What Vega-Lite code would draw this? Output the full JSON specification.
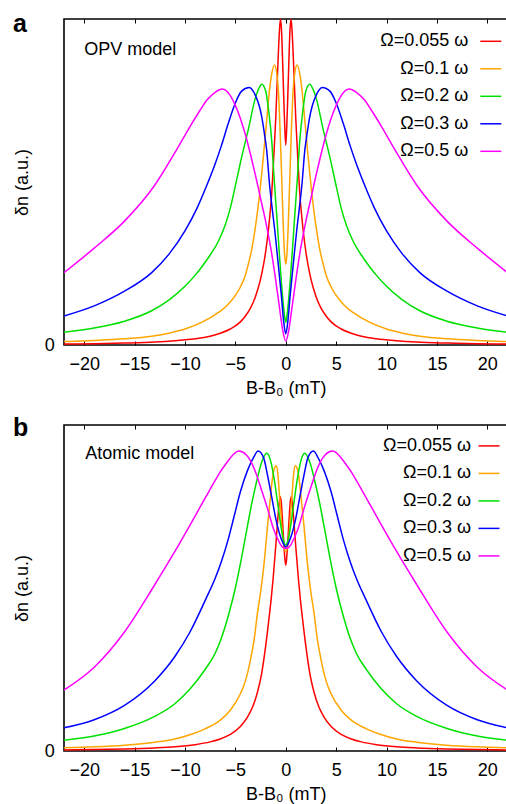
{
"$schema":"https://vega.github.io/schema/vega-lite/v6.json",
"padding":{"left":12,"top":10,"right":0,"bottom":0},
"spacing":15,
"config":{
 "font":"Liberation Sans",
 "view":{"stroke":"black","strokeWidth":1.6},
 "axis":{"labelFont":"Liberation Sans","labelFontSize":18,"labelColor":"black","titleFont":"Liberation Sans","titleFontSize":18,"titleFontWeight":"normal","titleColor":"black","grid":false,"domain":false,"tickColor":"black","tickWidth":1},
 "title":{"fontSize":25,"fontWeight":"bold","anchor":"start","frame":"group","color":"black","font":"Liberation Sans","baseline":"alphabetic","offset":0},
 "legend":{"orient":"none","title":null,"symbolType":"stroke","symbolSize":441,"symbolStrokeWidth":1.5,"labelAlign":"right","symbolOffset":0,"labelFontSize":18,"labelFont":"Liberation Sans","labelColor":"black","rowPadding":6.5,"padding":0,"labelLimit":300}
},
"resolve":{"scale":{"color":"independent"},"legend":{"color":"independent"}},
"datasets":{
"a":[
{"s":"0.055","x":-22,"y":0.003},{"s":"0.055","x":-19,"y":0.004},{"s":"0.055","x":-16,"y":0.006},{"s":"0.055","x":-13,"y":0.009},{"s":"0.055","x":-11,"y":0.013},{"s":"0.055","x":-9,"y":0.019},{"s":"0.055","x":-7.5,"y":0.027},{"s":"0.055","x":-6.5,"y":0.036},{"s":"0.055","x":-5.5,"y":0.049},{"s":"0.055","x":-4.5,"y":0.071},{"s":"0.055","x":-4,"y":0.089},{"s":"0.055","x":-3.5,"y":0.113},{"s":"0.055","x":-3,"y":0.149},{"s":"0.055","x":-2.5,"y":0.202},{"s":"0.055","x":-2.2,"y":0.247},{"s":"0.055","x":-2,"y":0.285},{"s":"0.055","x":-1.8,"y":0.332},{"s":"0.055","x":-1.6,"y":0.39},{"s":"0.055","x":-1.39,"y":0.465},{"s":"0.055","x":-1.2,"y":0.57},{"s":"0.055","x":-1,"y":0.69},{"s":"0.055","x":-0.8,"y":0.845},{"s":"0.055","x":-0.65,"y":0.95},{"s":"0.055","x":-0.53,"y":1},{"s":"0.055","x":-0.42,"y":0.965},{"s":"0.055","x":-0.3,"y":0.86},{"s":"0.055","x":-0.2,"y":0.76},{"s":"0.055","x":-0.1,"y":0.67},{"s":"0.055","x":0,"y":0.613},
{"s":"0.055","x":22,"y":0.003},{"s":"0.055","x":19,"y":0.004},{"s":"0.055","x":16,"y":0.006},{"s":"0.055","x":13,"y":0.009},{"s":"0.055","x":11,"y":0.013},{"s":"0.055","x":9,"y":0.019},{"s":"0.055","x":7.5,"y":0.027},{"s":"0.055","x":6.5,"y":0.036},{"s":"0.055","x":5.5,"y":0.049},{"s":"0.055","x":4.5,"y":0.071},{"s":"0.055","x":4,"y":0.089},{"s":"0.055","x":3.5,"y":0.113},{"s":"0.055","x":3,"y":0.149},{"s":"0.055","x":2.5,"y":0.202},{"s":"0.055","x":2.2,"y":0.247},{"s":"0.055","x":2,"y":0.285},{"s":"0.055","x":1.8,"y":0.332},{"s":"0.055","x":1.6,"y":0.39},{"s":"0.055","x":1.39,"y":0.465},{"s":"0.055","x":1.2,"y":0.57},{"s":"0.055","x":1,"y":0.69},{"s":"0.055","x":0.8,"y":0.845},{"s":"0.055","x":0.65,"y":0.95},{"s":"0.055","x":0.53,"y":1},{"s":"0.055","x":0.42,"y":0.965},{"s":"0.055","x":0.3,"y":0.86},{"s":"0.055","x":0.2,"y":0.76},{"s":"0.055","x":0.1,"y":0.67},
{"s":"0.1","x":-22,"y":0.0105},{"s":"0.1","x":-19,"y":0.014},{"s":"0.1","x":-16,"y":0.019},{"s":"0.1","x":-13.3,"y":0.027},{"s":"0.1","x":-11.5,"y":0.037},{"s":"0.1","x":-10,"y":0.049},{"s":"0.1","x":-8.3,"y":0.07},{"s":"0.1","x":-6.67,"y":0.1},{"s":"0.1","x":-5.8,"y":0.122},{"s":"0.1","x":-5,"y":0.152},{"s":"0.1","x":-4.5,"y":0.178},{"s":"0.1","x":-4,"y":0.215},{"s":"0.1","x":-3.7,"y":0.25},{"s":"0.1","x":-3.37,"y":0.294},{"s":"0.1","x":-3.04,"y":0.356},{"s":"0.1","x":-2.8,"y":0.41},{"s":"0.1","x":-2.54,"y":0.478},{"s":"0.1","x":-2.2,"y":0.585},{"s":"0.1","x":-1.88,"y":0.693},{"s":"0.1","x":-1.6,"y":0.785},{"s":"0.1","x":-1.4,"y":0.83},{"s":"0.1","x":-1.12,"y":0.859},{"s":"0.1","x":-0.9,"y":0.835},{"s":"0.1","x":-0.73,"y":0.78},{"s":"0.1","x":-0.55,"y":0.65},{"s":"0.1","x":-0.4,"y":0.51},{"s":"0.1","x":-0.25,"y":0.37},{"s":"0.1","x":-0.12,"y":0.28},{"s":"0.1","x":0,"y":0.248},
{"s":"0.1","x":22,"y":0.0105},{"s":"0.1","x":19,"y":0.014},{"s":"0.1","x":16,"y":0.019},{"s":"0.1","x":13.3,"y":0.027},{"s":"0.1","x":11.5,"y":0.037},{"s":"0.1","x":10,"y":0.049},{"s":"0.1","x":8.3,"y":0.07},{"s":"0.1","x":6.67,"y":0.1},{"s":"0.1","x":5.8,"y":0.122},{"s":"0.1","x":5,"y":0.152},{"s":"0.1","x":4.5,"y":0.178},{"s":"0.1","x":4,"y":0.215},{"s":"0.1","x":3.7,"y":0.25},{"s":"0.1","x":3.37,"y":0.294},{"s":"0.1","x":3.04,"y":0.356},{"s":"0.1","x":2.8,"y":0.41},{"s":"0.1","x":2.54,"y":0.478},{"s":"0.1","x":2.2,"y":0.585},{"s":"0.1","x":1.88,"y":0.693},{"s":"0.1","x":1.6,"y":0.785},{"s":"0.1","x":1.4,"y":0.83},{"s":"0.1","x":1.12,"y":0.859},{"s":"0.1","x":0.9,"y":0.835},{"s":"0.1","x":0.73,"y":0.78},{"s":"0.1","x":0.55,"y":0.65},{"s":"0.1","x":0.4,"y":0.51},{"s":"0.1","x":0.25,"y":0.37},{"s":"0.1","x":0.12,"y":0.28},
{"s":"0.2","x":-22,"y":0.039},{"s":"0.2","x":-19,"y":0.052},{"s":"0.2","x":-16,"y":0.073},{"s":"0.2","x":-13.3,"y":0.105},{"s":"0.2","x":-11.5,"y":0.14},{"s":"0.2","x":-10,"y":0.18},{"s":"0.2","x":-9,"y":0.2136},{"s":"0.2","x":-8.3,"y":0.241},{"s":"0.2","x":-7.5,"y":0.276},{"s":"0.2","x":-6.67,"y":0.319},{"s":"0.2","x":-6,"y":0.369},{"s":"0.2","x":-5.5,"y":0.42},{"s":"0.2","x":-5,"y":0.488},{"s":"0.2","x":-4.4,"y":0.573},{"s":"0.2","x":-3.7,"y":0.663},{"s":"0.2","x":-3.04,"y":0.755},{"s":"0.2","x":-2.7,"y":0.785},{"s":"0.2","x":-2.38,"y":0.8},{"s":"0.2","x":-2,"y":0.78},{"s":"0.2","x":-1.7,"y":0.72},{"s":"0.2","x":-1.4,"y":0.63},{"s":"0.2","x":-1.15,"y":0.51},{"s":"0.2","x":-0.9,"y":0.4},{"s":"0.2","x":-0.69,"y":0.305},{"s":"0.2","x":-0.45,"y":0.2},{"s":"0.2","x":-0.23,"y":0.12},{"s":"0.2","x":-0.1,"y":0.085},{"s":"0.2","x":0,"y":0.07},
{"s":"0.2","x":22,"y":0.039},{"s":"0.2","x":19,"y":0.052},{"s":"0.2","x":16,"y":0.073},{"s":"0.2","x":13.3,"y":0.105},{"s":"0.2","x":11.5,"y":0.14},{"s":"0.2","x":10,"y":0.18},{"s":"0.2","x":9,"y":0.2136},{"s":"0.2","x":8.3,"y":0.241},{"s":"0.2","x":7.5,"y":0.276},{"s":"0.2","x":6.67,"y":0.319},{"s":"0.2","x":6,"y":0.369},{"s":"0.2","x":5.5,"y":0.42},{"s":"0.2","x":5,"y":0.488},{"s":"0.2","x":4.4,"y":0.573},{"s":"0.2","x":3.7,"y":0.663},{"s":"0.2","x":3.04,"y":0.755},{"s":"0.2","x":2.7,"y":0.785},{"s":"0.2","x":2.38,"y":0.8},{"s":"0.2","x":2,"y":0.78},{"s":"0.2","x":1.7,"y":0.72},{"s":"0.2","x":1.4,"y":0.63},{"s":"0.2","x":1.15,"y":0.51},{"s":"0.2","x":0.9,"y":0.4},{"s":"0.2","x":0.69,"y":0.305},{"s":"0.2","x":0.45,"y":0.2},{"s":"0.2","x":0.23,"y":0.12},{"s":"0.2","x":0.1,"y":0.085},
{"s":"0.3","x":-22,"y":0.089},{"s":"0.3","x":-19,"y":0.12},{"s":"0.3","x":-16,"y":0.165},{"s":"0.3","x":-13.3,"y":0.222},{"s":"0.3","x":-11.6,"y":0.278},{"s":"0.3","x":-10,"y":0.35},{"s":"0.3","x":-8.8,"y":0.42},{"s":"0.3","x":-7.79,"y":0.493},{"s":"0.3","x":-7,"y":0.556},{"s":"0.3","x":-6.4,"y":0.61},{"s":"0.3","x":-5.7,"y":0.68},{"s":"0.3","x":-5.02,"y":0.741},{"s":"0.3","x":-4.4,"y":0.778},{"s":"0.3","x":-3.63,"y":0.79},{"s":"0.3","x":-3,"y":0.765},{"s":"0.3","x":-2.6,"y":0.73},{"s":"0.3","x":-2.38,"y":0.7},{"s":"0.3","x":-2.1,"y":0.645},{"s":"0.3","x":-1.9,"y":0.6},{"s":"0.3","x":-1.6,"y":0.49},{"s":"0.3","x":-1.35,"y":0.42},{"s":"0.3","x":-1.1,"y":0.355},{"s":"0.3","x":-0.8,"y":0.265},{"s":"0.3","x":-0.43,"y":0.15},{"s":"0.3","x":-0.2,"y":0.07},{"s":"0.3","x":0,"y":0.034},
{"s":"0.3","x":22,"y":0.089},{"s":"0.3","x":19,"y":0.12},{"s":"0.3","x":16,"y":0.165},{"s":"0.3","x":13.3,"y":0.222},{"s":"0.3","x":11.6,"y":0.278},{"s":"0.3","x":10,"y":0.35},{"s":"0.3","x":8.8,"y":0.42},{"s":"0.3","x":7.79,"y":0.493},{"s":"0.3","x":7,"y":0.556},{"s":"0.3","x":6.4,"y":0.61},{"s":"0.3","x":5.7,"y":0.68},{"s":"0.3","x":5.02,"y":0.741},{"s":"0.3","x":4.4,"y":0.778},{"s":"0.3","x":3.63,"y":0.79},{"s":"0.3","x":3,"y":0.765},{"s":"0.3","x":2.6,"y":0.73},{"s":"0.3","x":2.38,"y":0.7},{"s":"0.3","x":2.1,"y":0.645},{"s":"0.3","x":1.9,"y":0.6},{"s":"0.3","x":1.6,"y":0.49},{"s":"0.3","x":1.35,"y":0.42},{"s":"0.3","x":1.1,"y":0.355},{"s":"0.3","x":0.8,"y":0.265},{"s":"0.3","x":0.43,"y":0.15},{"s":"0.3","x":0.2,"y":0.07},
{"s":"0.5","x":-22,"y":0.222},{"s":"0.5","x":-19,"y":0.297},{"s":"0.5","x":-16,"y":0.38},{"s":"0.5","x":-13,"y":0.49},{"s":"0.5","x":-11,"y":0.59},{"s":"0.5","x":-9.5,"y":0.67},{"s":"0.5","x":-8.5,"y":0.72},{"s":"0.5","x":-7.8,"y":0.752},{"s":"0.5","x":-7,"y":0.775},{"s":"0.5","x":-6.3,"y":0.785},{"s":"0.5","x":-5.5,"y":0.765},{"s":"0.5","x":-5,"y":0.735},{"s":"0.5","x":-4.5,"y":0.695},{"s":"0.5","x":-4,"y":0.645},{"s":"0.5","x":-3.5,"y":0.585},{"s":"0.5","x":-3,"y":0.52},{"s":"0.5","x":-2.5,"y":0.45},{"s":"0.5","x":-2,"y":0.38},{"s":"0.5","x":-1.5,"y":0.3},{"s":"0.5","x":-1,"y":0.2},{"s":"0.5","x":-0.6,"y":0.11},{"s":"0.5","x":-0.3,"y":0.045},{"s":"0.5","x":0,"y":0.012},
{"s":"0.5","x":22,"y":0.222},{"s":"0.5","x":19,"y":0.297},{"s":"0.5","x":16,"y":0.38},{"s":"0.5","x":13,"y":0.49},{"s":"0.5","x":11,"y":0.59},{"s":"0.5","x":9.5,"y":0.67},{"s":"0.5","x":8.5,"y":0.72},{"s":"0.5","x":7.8,"y":0.752},{"s":"0.5","x":7,"y":0.775},{"s":"0.5","x":6.3,"y":0.785},{"s":"0.5","x":5.5,"y":0.765},{"s":"0.5","x":5,"y":0.735},{"s":"0.5","x":4.5,"y":0.695},{"s":"0.5","x":4,"y":0.645},{"s":"0.5","x":3.5,"y":0.585},{"s":"0.5","x":3,"y":0.52},{"s":"0.5","x":2.5,"y":0.45},{"s":"0.5","x":2,"y":0.38},{"s":"0.5","x":1.5,"y":0.3},{"s":"0.5","x":1,"y":0.2},{"s":"0.5","x":0.6,"y":0.11},{"s":"0.5","x":0.3,"y":0.045}
],
"b":[
{"s":"0.055","x":-22,"y":0.0033},{"s":"0.055","x":-19,"y":0.0044},{"s":"0.055","x":-16,"y":0.0062},{"s":"0.055","x":-13,"y":0.0094},{"s":"0.055","x":-11,"y":0.013},{"s":"0.055","x":-9,"y":0.0195},{"s":"0.055","x":-7.5,"y":0.028},{"s":"0.055","x":-6.5,"y":0.037},{"s":"0.055","x":-5.5,"y":0.051},{"s":"0.055","x":-4.5,"y":0.075},{"s":"0.055","x":-3.8,"y":0.104},{"s":"0.055","x":-3.3,"y":0.134},{"s":"0.055","x":-2.8,"y":0.181},{"s":"0.055","x":-2.4,"y":0.236},{"s":"0.055","x":-2,"y":0.32},{"s":"0.055","x":-1.65,"y":0.41},{"s":"0.055","x":-1.45,"y":0.465},{"s":"0.055","x":-1.25,"y":0.53},{"s":"0.055","x":-1,"y":0.625},{"s":"0.055","x":-0.82,"y":0.7},{"s":"0.055","x":-0.68,"y":0.75},{"s":"0.055","x":-0.56,"y":0.78},{"s":"0.055","x":-0.45,"y":0.765},{"s":"0.055","x":-0.33,"y":0.71},{"s":"0.055","x":-0.2,"y":0.64},{"s":"0.055","x":-0.1,"y":0.595},{"s":"0.055","x":0,"y":0.57},
{"s":"0.055","x":22,"y":0.0033},{"s":"0.055","x":19,"y":0.0044},{"s":"0.055","x":16,"y":0.0062},{"s":"0.055","x":13,"y":0.0094},{"s":"0.055","x":11,"y":0.013},{"s":"0.055","x":9,"y":0.0195},{"s":"0.055","x":7.5,"y":0.028},{"s":"0.055","x":6.5,"y":0.037},{"s":"0.055","x":5.5,"y":0.051},{"s":"0.055","x":4.5,"y":0.075},{"s":"0.055","x":3.8,"y":0.104},{"s":"0.055","x":3.3,"y":0.134},{"s":"0.055","x":2.8,"y":0.181},{"s":"0.055","x":2.4,"y":0.236},{"s":"0.055","x":2,"y":0.32},{"s":"0.055","x":1.65,"y":0.41},{"s":"0.055","x":1.45,"y":0.465},{"s":"0.055","x":1.25,"y":0.53},{"s":"0.055","x":1,"y":0.625},{"s":"0.055","x":0.82,"y":0.7},{"s":"0.055","x":0.68,"y":0.75},{"s":"0.055","x":0.56,"y":0.78},{"s":"0.055","x":0.45,"y":0.765},{"s":"0.055","x":0.33,"y":0.71},{"s":"0.055","x":0.2,"y":0.64},{"s":"0.055","x":0.1,"y":0.595},
{"s":"0.1","x":-22,"y":0.01},{"s":"0.1","x":-19,"y":0.013},{"s":"0.1","x":-16,"y":0.018},{"s":"0.1","x":-13,"y":0.027},{"s":"0.1","x":-11,"y":0.037},{"s":"0.1","x":-9.5,"y":0.05},{"s":"0.1","x":-8,"y":0.068},{"s":"0.1","x":-7,"y":0.084},{"s":"0.1","x":-6.4,"y":0.097},{"s":"0.1","x":-5.5,"y":0.125},{"s":"0.1","x":-4.46,"y":0.178},{"s":"0.1","x":-4,"y":0.215},{"s":"0.1","x":-3.47,"y":0.285},{"s":"0.1","x":-3.1,"y":0.35},{"s":"0.1","x":-2.8,"y":0.425},{"s":"0.1","x":-2.48,"y":0.49},{"s":"0.1","x":-2.1,"y":0.59},{"s":"0.1","x":-1.81,"y":0.69},{"s":"0.1","x":-1.5,"y":0.785},{"s":"0.1","x":-1.32,"y":0.836},{"s":"0.1","x":-1.15,"y":0.865},{"s":"0.1","x":-0.95,"y":0.875},{"s":"0.1","x":-0.8,"y":0.855},{"s":"0.1","x":-0.66,"y":0.8},{"s":"0.1","x":-0.5,"y":0.735},{"s":"0.1","x":-0.33,"y":0.665},{"s":"0.1","x":-0.15,"y":0.623},{"s":"0.1","x":0,"y":0.611},
{"s":"0.1","x":22,"y":0.01},{"s":"0.1","x":19,"y":0.013},{"s":"0.1","x":16,"y":0.018},{"s":"0.1","x":13,"y":0.027},{"s":"0.1","x":11,"y":0.037},{"s":"0.1","x":9.5,"y":0.05},{"s":"0.1","x":8,"y":0.068},{"s":"0.1","x":7,"y":0.084},{"s":"0.1","x":6.4,"y":0.097},{"s":"0.1","x":5.5,"y":0.125},{"s":"0.1","x":4.46,"y":0.178},{"s":"0.1","x":4,"y":0.215},{"s":"0.1","x":3.47,"y":0.285},{"s":"0.1","x":3.1,"y":0.35},{"s":"0.1","x":2.8,"y":0.425},{"s":"0.1","x":2.48,"y":0.49},{"s":"0.1","x":2.1,"y":0.59},{"s":"0.1","x":1.81,"y":0.69},{"s":"0.1","x":1.5,"y":0.785},{"s":"0.1","x":1.32,"y":0.836},{"s":"0.1","x":1.15,"y":0.865},{"s":"0.1","x":0.95,"y":0.875},{"s":"0.1","x":0.8,"y":0.855},{"s":"0.1","x":0.66,"y":0.8},{"s":"0.1","x":0.5,"y":0.735},{"s":"0.1","x":0.33,"y":0.665},{"s":"0.1","x":0.15,"y":0.623},
{"s":"0.2","x":-22,"y":0.033},{"s":"0.2","x":-19,"y":0.046},{"s":"0.2","x":-16,"y":0.069},{"s":"0.2","x":-13,"y":0.106},{"s":"0.2","x":-11,"y":0.145},{"s":"0.2","x":-9.5,"y":0.19},{"s":"0.2","x":-8,"y":0.25},{"s":"0.2","x":-7,"y":0.3},{"s":"0.2","x":-6.4,"y":0.345},{"s":"0.2","x":-5.7,"y":0.415},{"s":"0.2","x":-5,"y":0.5},{"s":"0.2","x":-4.4,"y":0.59},{"s":"0.2","x":-3.8,"y":0.69},{"s":"0.2","x":-3.3,"y":0.77},{"s":"0.2","x":-2.97,"y":0.816},{"s":"0.2","x":-2.4,"y":0.885},{"s":"0.2","x":-1.88,"y":0.913},{"s":"0.2","x":-1.5,"y":0.89},{"s":"0.2","x":-1.16,"y":0.836},{"s":"0.2","x":-0.8,"y":0.76},{"s":"0.2","x":-0.5,"y":0.693},{"s":"0.2","x":-0.25,"y":0.65},{"s":"0.2","x":0,"y":0.632},
{"s":"0.2","x":22,"y":0.033},{"s":"0.2","x":19,"y":0.046},{"s":"0.2","x":16,"y":0.069},{"s":"0.2","x":13,"y":0.106},{"s":"0.2","x":11,"y":0.145},{"s":"0.2","x":9.5,"y":0.19},{"s":"0.2","x":8,"y":0.25},{"s":"0.2","x":7,"y":0.3},{"s":"0.2","x":6.4,"y":0.345},{"s":"0.2","x":5.7,"y":0.415},{"s":"0.2","x":5,"y":0.5},{"s":"0.2","x":4.4,"y":0.59},{"s":"0.2","x":3.8,"y":0.69},{"s":"0.2","x":3.3,"y":0.77},{"s":"0.2","x":2.97,"y":0.816},{"s":"0.2","x":2.4,"y":0.885},{"s":"0.2","x":1.88,"y":0.913},{"s":"0.2","x":1.5,"y":0.89},{"s":"0.2","x":1.16,"y":0.836},{"s":"0.2","x":0.8,"y":0.76},{"s":"0.2","x":0.5,"y":0.693},{"s":"0.2","x":0.25,"y":0.65},
{"s":"0.3","x":-22,"y":0.071},{"s":"0.3","x":-19,"y":0.096},{"s":"0.3","x":-16,"y":0.14},{"s":"0.3","x":-13,"y":0.215},{"s":"0.3","x":-11,"y":0.29},{"s":"0.3","x":-9.5,"y":0.365},{"s":"0.3","x":-7.9,"y":0.468},{"s":"0.3","x":-7,"y":0.53},{"s":"0.3","x":-6.4,"y":0.58},{"s":"0.3","x":-5.7,"y":0.65},{"s":"0.3","x":-5.12,"y":0.72},{"s":"0.3","x":-4.5,"y":0.795},{"s":"0.3","x":-3.8,"y":0.86},{"s":"0.3","x":-3.2,"y":0.9},{"s":"0.3","x":-2.74,"y":0.92},{"s":"0.3","x":-2.2,"y":0.9},{"s":"0.3","x":-1.81,"y":0.846},{"s":"0.3","x":-1.4,"y":0.78},{"s":"0.3","x":-0.99,"y":0.713},{"s":"0.3","x":-0.6,"y":0.665},{"s":"0.3","x":-0.33,"y":0.642},{"s":"0.3","x":0,"y":0.626},
{"s":"0.3","x":22,"y":0.071},{"s":"0.3","x":19,"y":0.096},{"s":"0.3","x":16,"y":0.14},{"s":"0.3","x":13,"y":0.215},{"s":"0.3","x":11,"y":0.29},{"s":"0.3","x":9.5,"y":0.365},{"s":"0.3","x":7.9,"y":0.468},{"s":"0.3","x":7,"y":0.53},{"s":"0.3","x":6.4,"y":0.58},{"s":"0.3","x":5.7,"y":0.65},{"s":"0.3","x":5.12,"y":0.72},{"s":"0.3","x":4.5,"y":0.795},{"s":"0.3","x":3.8,"y":0.86},{"s":"0.3","x":3.2,"y":0.9},{"s":"0.3","x":2.74,"y":0.92},{"s":"0.3","x":2.2,"y":0.9},{"s":"0.3","x":1.81,"y":0.846},{"s":"0.3","x":1.4,"y":0.78},{"s":"0.3","x":0.99,"y":0.713},{"s":"0.3","x":0.6,"y":0.665},{"s":"0.3","x":0.33,"y":0.642},
{"s":"0.5","x":-22,"y":0.187},{"s":"0.5","x":-19,"y":0.257},{"s":"0.5","x":-16,"y":0.365},{"s":"0.5","x":-13,"y":0.51},{"s":"0.5","x":-11,"y":0.612},{"s":"0.5","x":-9.5,"y":0.693},{"s":"0.5","x":-8.5,"y":0.748},{"s":"0.5","x":-7.9,"y":0.781},{"s":"0.5","x":-7,"y":0.83},{"s":"0.5","x":-6.5,"y":0.856},{"s":"0.5","x":-6,"y":0.878},{"s":"0.5","x":-5.5,"y":0.899},{"s":"0.5","x":-5,"y":0.915},{"s":"0.5","x":-4.65,"y":0.92},{"s":"0.5","x":-3.9,"y":0.908},{"s":"0.5","x":-3.14,"y":0.867},{"s":"0.5","x":-2.5,"y":0.81},{"s":"0.5","x":-1.81,"y":0.744},{"s":"0.5","x":-1.2,"y":0.68},{"s":"0.5","x":-0.82,"y":0.652},{"s":"0.5","x":-0.4,"y":0.628},{"s":"0.5","x":0,"y":0.621},
{"s":"0.5","x":22,"y":0.187},{"s":"0.5","x":19,"y":0.257},{"s":"0.5","x":16,"y":0.365},{"s":"0.5","x":13,"y":0.51},{"s":"0.5","x":11,"y":0.612},{"s":"0.5","x":9.5,"y":0.693},{"s":"0.5","x":8.5,"y":0.748},{"s":"0.5","x":7.9,"y":0.781},{"s":"0.5","x":7,"y":0.83},{"s":"0.5","x":6.5,"y":0.856},{"s":"0.5","x":6,"y":0.878},{"s":"0.5","x":5.5,"y":0.899},{"s":"0.5","x":5,"y":0.915},{"s":"0.5","x":4.65,"y":0.92},{"s":"0.5","x":3.9,"y":0.908},{"s":"0.5","x":3.14,"y":0.867},{"s":"0.5","x":2.5,"y":0.81},{"s":"0.5","x":1.81,"y":0.744},{"s":"0.5","x":1.2,"y":0.68},{"s":"0.5","x":0.82,"y":0.652},{"s":"0.5","x":0.4,"y":0.628}
]
},
"vconcat":[
{
 "title":{"text":"a","dx":-51,"dy":22},
 "width":443.5,"height":326,
 "resolve":{"axis":{"x":"independent"}},
 "layer":[
  {"data":{"name":"a"},"mark":{"type":"line","interpolate":"monotone","strokeWidth":1.5,"clip":true},
   "encoding":{
    "x":{"field":"x","type":"quantitative","scale":{"domain":[-22,22],"nice":false,"zero":false},"axis":{"orient":"bottom","values":[-20,-15,-10,-5,0,5,10,15,20],"tickSize":-4,"labelPadding":14.5,"title":"B-B₀ (mT)","titlePadding":6}},
    "y":{"field":"y","type":"quantitative","scale":{"domain":[0,1],"nice":false},"axis":{"values":[0],"format":"d","tickSize":0,"labelPadding":9.7,"title":"δn (a.u.)","titlePadding":13}},
    "color":{"field":"s","type":"nominal","scale":{"domain":["0.055","0.1","0.2","0.3","0.5"],"range":["#ff0000","#ffa500","#00e000","#0000ff","#ff00ff"]},
     "legend":{"legendX":415.3,"legendY":10.8,"labelOffset":-34,"labelExpr":"(length(datum.label) < 5 ? '\u2007\u2007' : '') + 'Ω=' + datum.label + ' ω'"}}
   }},
  {"data":{"name":"a"},"mark":{"type":"line","opacity":0},
   "encoding":{
    "x":{"field":"x","type":"quantitative","axis":{"orient":"top","values":[-20,-15,-10,-5,0,5,10,15,20],"tickSize":-4,"labels":false,"title":null}},
    "y":{"field":"y","type":"quantitative"}}},
  {"data":{"values":[{}]},"mark":{"type":"text","align":"left","baseline":"middle","fontSize":18,"font":"Liberation Sans","color":"black"},
   "encoding":{"x":{"datum":-20,"type":"quantitative","axis":null},"y":{"datum":0.905,"type":"quantitative"},"text":{"value":"OPV model"}}}
 ]
},
{
 "title":{"text":"b","dx":-51,"dy":20},
 "width":443.5,"height":326,
 "resolve":{"axis":{"x":"independent"}},
 "layer":[
  {"data":{"name":"b"},"mark":{"type":"line","interpolate":"monotone","strokeWidth":1.5,"clip":true},
   "encoding":{
    "x":{"field":"x","type":"quantitative","scale":{"domain":[-22,22],"nice":false,"zero":false},"axis":{"orient":"bottom","values":[-20,-15,-10,-5,0,5,10,15,20],"tickSize":-4,"labelPadding":14.5,"title":"B-B₀ (mT)","titlePadding":6}},
    "y":{"field":"y","type":"quantitative","scale":{"domain":[0,1],"nice":false},"axis":{"values":[0],"format":"d","tickSize":0,"labelPadding":9.7,"title":"δn (a.u.)","titlePadding":13}},
    "color":{"field":"s","type":"nominal","scale":{"domain":["0.055","0.1","0.2","0.3","0.5"],"range":["#ff0000","#ffa500","#00e000","#0000ff","#ff00ff"]},
     "legend":{"legendX":413.5,"legendY":9.4,"labelOffset":-29.5,"labelExpr":"(length(datum.label) < 5 ? '\u2007\u2007' : '') + 'Ω=' + datum.label + ' ω'"}}
   }},
  {"data":{"name":"b"},"mark":{"type":"line","opacity":0},
   "encoding":{
    "x":{"field":"x","type":"quantitative","axis":{"orient":"top","values":[-20,-15,-10,-5,0,5,10,15,20],"tickSize":-4,"labels":false,"title":null}},
    "y":{"field":"y","type":"quantitative"}}},
  {"data":{"values":[{}]},"mark":{"type":"text","align":"left","baseline":"middle","fontSize":18,"font":"Liberation Sans","color":"black"},
   "encoding":{"x":{"datum":-19.9,"type":"quantitative","axis":null},"y":{"datum":0.911,"type":"quantitative"},"text":{"value":"Atomic model"}}}
 ]
}
]
}
